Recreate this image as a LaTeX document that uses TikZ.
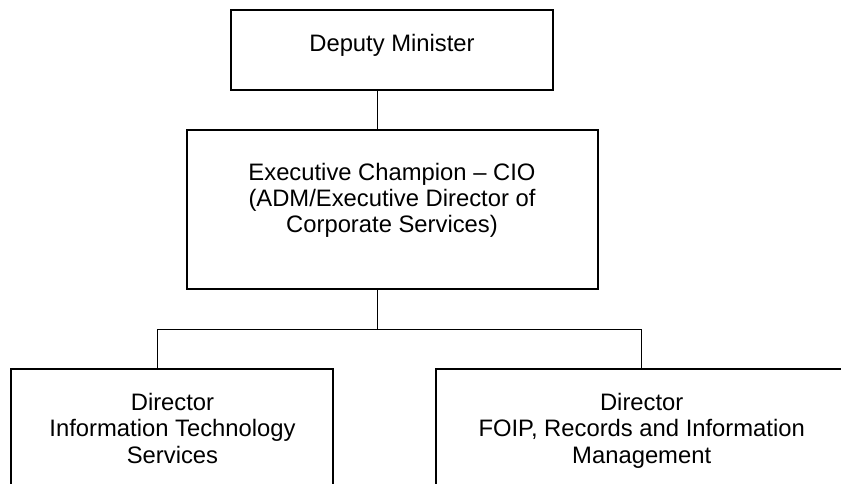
\documentclass[tikz,border=0pt]{standalone}
\usepackage{fontspec}
\setmainfont{Liberation Sans}
\newfontfamily\chartfont{Liberation Sans}
\begin{document}
\begin{tikzpicture}[x=1pt,y=-1pt,
  box/.style={draw=black, line width=1.7pt, rectangle, inner sep=0pt, fill=none},
  label/.style={inner sep=0pt, align=center, anchor=base,
    font=\chartfont\fontsize{23.8}{26.4}\selectfont},
  link/.style={draw=black, line width=1.5pt}]
  \useasboundingbox (0,0) rectangle (841,484);
  \begin{scope}
  \clip (0,0) rectangle (841,484);

  % boxes
  \node[box, minimum width=322.6pt, minimum height=79.7pt] (dm) at (392,50.15) {};
  \node[box, minimum width=411pt, minimum height=159pt] (exec) at (392.2,209.5) {};
  \node[box, minimum width=322.3pt, minimum height=150pt] (it) at (172.15,444) {};
  \node[box, minimum width=410pt, minimum height=150pt] (foip) at (641,444) {};

  % box texts (anchor base = baseline of the last line)
  \node[label] (dmtext) at (392,51.7) {Deputy Minister};
  \node[label] (exectext) at (392,233) {Executive Champion – CIO\\(ADM/Executive Director of\\Corporate Services)};
  \node[label] (ittext) at (172.5,463.3) {Director\\Information Technology\\Services};
  \node[label] (foiptext) at (641.7,463.3) {Director\\FOIP, Records and Information\\Management};

  % connectors
  \coordinate (spine) at (377.7,0);
  \coordinate (bus) at (0,329.3);
  \coordinate (itdrop) at (157.3,0);
  \coordinate (foipdrop) at (641.7,0);
  \draw[link] (dm.south -| spine) -- (exec.north -| spine);
  \draw[link] (exec.south -| spine) -- (bus -| spine);
  \draw[link] (it.north -| itdrop) -- (bus -| itdrop) -- (bus -| foipdrop) -- (foip.north -| foipdrop);
  \end{scope}
\end{tikzpicture}
\end{document}
